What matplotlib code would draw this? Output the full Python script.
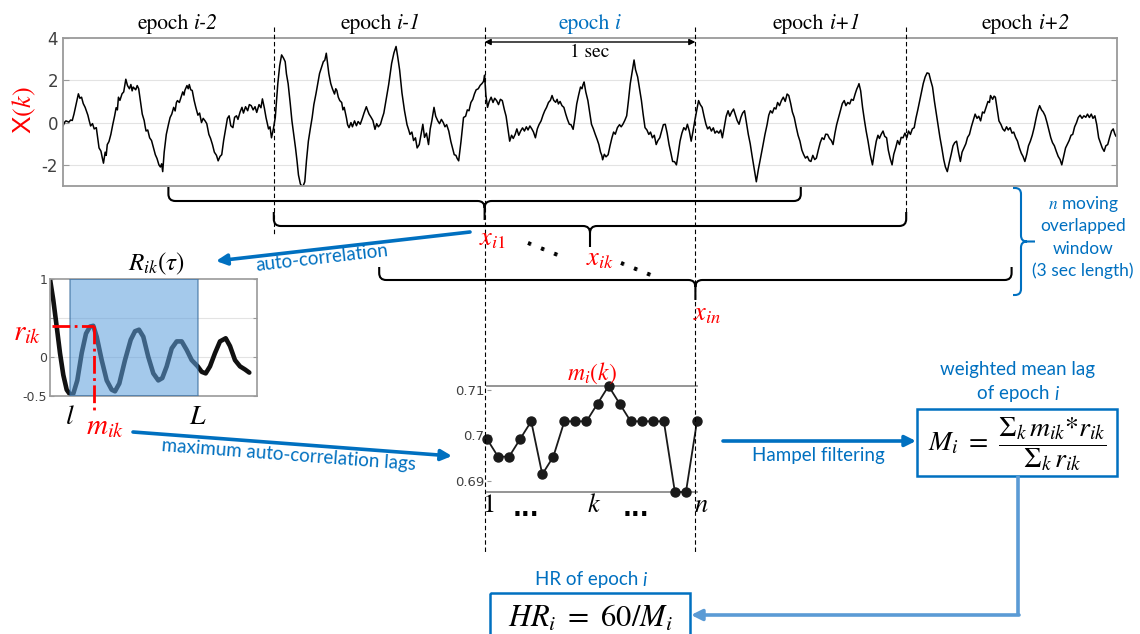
import matplotlib.pyplot as plt
from matplotlib.path import Path
from matplotlib.patches import PathPatch, FancyArrowPatch, Rectangle

plt.rcParams['mathtext.fontset'] = 'stix'
plt.rcParams['axes.unicode_minus'] = False

BLUE = '#0070C0'
LBLUE = '#5B9BD5'
SANS = 'Lato'
SERIF = 'STIXGeneral'
GRAY = '#404040'

# X(k) signal: (time in sec, amplitude)
sig = [(0.000, -0.16), (0.008, 0.02), (0.014, 0.08), (0.028, 0.02), (0.036, 0.12), (0.044, 0.10),
       (0.052, 0.40), (0.062, 0.85), (0.073, 1.36), (0.080, 1.15), (0.088, 1.20), (0.096, 0.90),
       (0.105, 0.72), (0.118, 0.35), (0.124, 0.10), (0.131, -0.16), (0.140, -0.05), (0.148, -0.30),
       (0.158, -0.24), (0.164, -0.70), (0.171, -1.20), (0.180, -1.35), (0.186, -1.65), (0.192, -1.92),
       (0.200, -1.40), (0.205, -1.55), (0.210, -1.04), (0.218, -0.90), (0.227, -0.56), (0.236, -0.10),
       (0.245, 0.32), (0.252, 0.70), (0.258, 0.60), (0.263, 1.20), (0.270, 1.05), (0.280, 1.36),
       (0.288, 1.45), (0.298, 2.05), (0.306, 1.75), (0.315, 1.60), (0.322, 1.80), (0.328, 1.50),
       (0.333, 1.68), (0.345, 1.55), (0.352, 1.75), (0.359, 1.60), (0.368, 0.95), (0.376, 0.40),
       (0.385, 0.10), (0.390, -0.20), (0.394, -0.40), (0.402, -0.35), (0.411, -0.72), (0.420, -0.85),
       (0.428, -1.15), (0.438, -1.52), (0.446, -1.70), (0.455, -2.00), (0.462, -2.10), (0.468, -1.95),
       (0.473, -2.32), (0.480, -1.40), (0.490, -0.56), (0.500, -0.10), (0.508, 0.24), (0.516, 0.40),
       (0.525, 0.72), (0.532, 0.55), (0.538, 0.95), (0.543, 1.04), (0.552, 0.95), (0.560, 1.20),
       (0.568, 1.45), (0.574, 1.30), (0.578, 1.52), (0.588, 1.75), (0.594, 1.60), (0.599, 1.80),
       (0.606, 1.55), (0.613, 1.52), (0.622, 1.05), (0.630, 0.72), (0.640, 0.35), (0.648, 0.45),
       (0.657, 0.00), (0.665, 0.20), (0.674, 0.08), (0.682, -0.05), (0.692, -0.56), (0.700, -0.75),
       (0.709, -1.04), (0.718, -1.40), (0.728, -1.55), (0.736, -1.81), (0.745, -1.60), (0.753, -1.52),
       (0.762, -0.85), (0.771, -0.32), (0.780, 0.20), (0.788, 0.32), (0.796, -0.15), (0.806, -0.24),
       (0.814, 0.25), (0.823, 0.32), (0.830, 0.15), (0.840, 0.50), (0.849, 0.72), (0.856, 0.45),
       (0.866, 0.75), (0.876, 0.56), (0.884, 0.85), (0.893, 0.80), (0.902, 0.60), (0.911, 0.75),
       (0.919, 0.48), (0.930, 0.85), (0.939, 0.70), (0.946, 1.12), (0.955, 0.70), (0.963, 0.24),
       (0.975, -0.30), (0.982, -0.20), (0.989, -0.72), (0.998, -0.30), (1.007, 0.24), (1.019, 1.84),
       (1.028, 2.70), (1.037, 3.20), (1.046, 3.05), (1.054, 2.88), (1.060, 2.30), (1.068, 1.84),
       (1.078, 0.90), (1.086, 0.08), (1.095, -0.60), (1.103, -1.20), (1.110, -1.80), (1.117, -2.48),
       (1.126, -2.90), (1.135, -3.04), (1.141, -2.95), (1.147, -2.80), (1.155, -1.80), (1.164, -0.88),
       (1.173, -0.30), (1.182, 0.24), (1.190, 0.85), (1.200, 1.36), (1.208, 1.80), (1.217, 2.32),
       (1.226, 2.60), (1.235, 2.88), (1.242, 2.95), (1.249, 3.28), (1.255, 2.80), (1.261, 2.32),
       (1.270, 1.85), (1.278, 1.60), (1.288, 1.35), (1.294, 1.60), (1.299, 1.52), (1.306, 1.20),
       (1.313, 1.04), (1.322, 0.95), (1.328, 0.60), (1.334, 0.72), (1.345, 0.20), (1.350, -0.10),
       (1.357, -0.24), (1.366, 0.00), (1.373, -0.20), (1.383, 0.08), (1.392, -0.15), (1.400, 0.05),
       (1.410, -0.08), (1.420, 0.20), (1.428, 0.45), (1.439, 0.75), (1.446, 0.55), (1.452, 0.40),
       (1.462, 0.24), (1.470, 0.10), (1.480, -0.32), (1.488, -0.05), (1.496, -0.20), (1.506, -0.08),
       (1.514, 0.20), (1.522, 0.45), (1.532, 1.04), (1.545, 1.80), (1.559, 2.80), (1.570, 3.30),
       (1.580, 3.60), (1.588, 3.10), (1.597, 2.48), (1.608, 1.40), (1.620, 0.56), (1.632, -0.10),
       (1.640, -0.35), (1.646, -0.56), (1.655, -0.45), (1.663, -0.85), (1.672, -0.72), (1.680, -1.20),
       (1.690, -1.04), (1.698, -0.60), (1.707, -0.08), (1.715, -0.70), (1.724, -0.50), (1.734, -1.04),
       (1.742, -0.30), (1.750, 0.10), (1.760, 0.72), (1.768, 0.30), (1.778, 0.08), (1.786, -0.05),
       (1.795, 0.15), (1.804, 0.00), (1.812, -0.20), (1.820, -0.10), (1.830, -0.40), (1.840, -0.90),
       (1.848, -1.20), (1.856, -1.52), (1.864, -1.55), (1.870, -1.70), (1.877, -1.81), (1.888, -0.90),
       (1.900, 0.24), (1.910, 0.30), (1.918, 0.60), (1.926, 0.56), (1.935, 0.95), (1.944, 1.10),
       (1.952, 1.36), (1.960, 1.55), (1.970, 1.60), (1.979, 1.76), (1.988, 1.85), (1.995, 1.95),
       (2.000, 2.24), (2.006, 1.30), (2.014, 0.72), (2.022, 1.00), (2.031, 1.20), (2.040, 0.95),
       (2.048, 1.15), (2.057, 1.04), (2.066, 0.85), (2.075, 1.10), (2.084, 1.04), (2.094, 0.60),
       (2.102, 0.30), (2.110, -0.24), (2.119, -0.88), (2.128, -0.60), (2.136, -0.75), (2.145, -0.56),
       (2.153, -0.30), (2.162, -0.60), (2.171, -0.40), (2.180, -0.25), (2.189, -0.40), (2.198, -0.20),
       (2.206, -0.35), (2.215, -0.16), (2.224, -0.30), (2.232, -0.45), (2.241, -0.72), (2.250, -0.30),
       (2.258, -0.10), (2.268, 0.08), (2.277, 0.35), (2.285, 0.55), (2.294, 0.72), (2.303, 0.95),
       (2.312, 1.05), (2.320, 1.28), (2.328, 1.05), (2.337, 0.96), (2.344, 1.10), (2.350, 0.88),
       (2.358, 1.00), (2.367, 0.80), (2.376, 0.72), (2.385, 0.40), (2.393, 0.15), (2.402, -0.08),
       (2.410, -0.10), (2.420, -0.32), (2.428, 0.20), (2.437, 0.88), (2.446, 1.30), (2.455, 1.68),
       (2.462, 1.60), (2.467, 1.80), (2.472, 1.92), (2.480, 1.45), (2.490, 1.04), (2.498, 0.50),
       (2.507, -0.08), (2.516, -0.30), (2.525, -0.56), (2.534, -0.80), (2.542, -1.04), (2.550, -1.40),
       (2.556, -1.55), (2.560, -1.76), (2.568, -1.50), (2.576, -1.62), (2.586, -1.52), (2.595, -1.10),
       (2.604, -0.72), (2.612, -0.45), (2.620, -0.55), (2.630, -0.24), (2.640, -0.10), (2.648, -0.20),
       (2.656, -0.08), (2.665, 0.10), (2.674, 0.32), (2.682, 1.00), (2.691, 1.84), (2.700, 2.40),
       (2.709, 2.96), (2.716, 2.50), (2.726, 2.16), (2.735, 1.60), (2.744, 1.04), (2.752, 0.40),
       (2.761, -0.24), (2.770, -0.35), (2.779, -0.56), (2.787, -0.45), (2.796, -0.72), (2.805, -0.60),
       (2.814, -1.04), (2.822, -0.85), (2.831, -0.72), (2.840, -0.40), (2.848, -0.10), (2.857, -0.08),
       (2.866, -0.50), (2.875, -1.04), (2.884, -1.45), (2.892, -1.84), (2.901, -1.85), (2.910, -2.00),
       (2.918, -1.50), (2.927, -0.88), (2.936, -0.50), (2.945, -0.24), (2.954, -0.35), (2.962, -0.08),
       (2.971, -0.40), (2.980, -0.88), (2.988, -0.45), (2.997, 0.08), (3.006, 0.55), (3.015, 1.04),
       (3.023, 0.85), (3.032, 0.72), (3.041, 0.30), (3.050, -0.08), (3.058, -0.30), (3.067, -0.20),
       (3.076, -0.40), (3.085, -0.25), (3.093, -0.50), (3.102, -0.40), (3.111, -0.50), (3.120, -0.35),
       (3.128, -0.72), (3.137, -0.20), (3.146, 0.30), (3.155, 0.56), (3.163, 0.30), (3.172, 0.50),
       (3.181, 0.64), (3.190, 0.35), (3.198, 0.10), (3.207, -0.08), (3.216, 0.25), (3.224, 0.45),
       (3.233, 0.56), (3.242, 0.00), (3.251, -0.56), (3.260, -1.00), (3.268, -1.52), (3.279, -2.20),
       (3.289, -2.80), (3.299, -2.20), (3.309, -1.68), (3.320, -1.10), (3.330, -0.56), (3.340, -0.10),
       (3.348, 0.35), (3.356, 0.56), (3.365, 0.45), (3.374, 0.70), (3.382, 0.64), (3.390, 0.95),
       (3.399, 0.80), (3.408, 1.04), (3.417, 1.20), (3.426, 1.00), (3.435, 1.35), (3.443, 1.28),
       (3.452, 0.90), (3.460, 0.50), (3.469, 0.24), (3.478, -0.20), (3.487, -0.60), (3.496, -0.88),
       (3.505, -1.30), (3.513, -1.50), (3.522, -1.68), (3.531, -1.60), (3.540, -1.80), (3.548, -1.84),
       (3.557, -1.55), (3.566, -1.75), (3.574, -1.68), (3.583, -1.30), (3.592, -0.95), (3.601, -0.72),
       (3.610, -0.80), (3.618, -0.55), (3.627, -0.56), (3.636, -0.75), (3.645, -0.85), (3.653, -1.04),
       (3.662, -0.50), (3.670, -0.10), (3.679, 0.24), (3.688, 0.60), (3.697, 0.90), (3.706, 1.04),
       (3.714, 0.80), (3.723, 0.95), (3.732, 0.88), (3.740, 1.10), (3.749, 1.05), (3.758, 1.36),
       (3.766, 1.60), (3.771, 1.70), (3.776, 1.84), (3.784, 1.50), (3.793, 0.72), (3.802, 0.10),
       (3.810, -0.40), (3.819, -0.88), (3.829, -1.50), (3.840, -2.00), (3.849, -1.40), (3.858, -0.88),
       (3.866, -0.60), (3.873, -0.75), (3.881, -0.56), (3.890, -0.40), (3.898, -0.65), (3.907, -0.72),
       (3.915, -1.30), (3.924, -1.70), (3.933, -2.00), (3.941, -1.50), (3.950, -1.20), (3.959, -0.85),
       (3.968, -1.04), (3.976, -0.70), (3.985, -0.72), (3.994, -0.50), (4.003, -0.72), (4.011, -0.40),
       (4.020, -0.56), (4.029, -0.30), (4.038, -0.24), (4.046, 0.20), (4.055, 0.60), (4.064, 1.04),
       (4.073, 1.50), (4.081, 1.85), (4.090, 2.16), (4.099, 2.35), (4.108, 2.32), (4.116, 2.00),
       (4.125, 1.68), (4.134, 1.00), (4.143, 0.40), (4.152, -0.20), (4.160, -0.70), (4.169, -1.20),
       (4.178, -1.75), (4.186, -2.10), (4.195, -2.32), (4.204, -1.90), (4.213, -1.52), (4.222, -1.10),
       (4.230, -0.95), (4.239, -0.88), (4.248, -1.40), (4.257, -1.84), (4.265, -1.40), (4.274, -1.20),
       (4.283, -1.00), (4.291, -0.70), (4.300, -0.56), (4.309, -0.20), (4.318, 0.10), (4.327, 0.40),
       (4.336, 0.20), (4.344, 0.30), (4.353, 0.08), (4.362, 0.50), (4.370, 0.45), (4.379, 0.72),
       (4.388, 1.00), (4.395, 0.95), (4.400, 1.28), (4.410, 1.10), (4.417, 1.25), (4.423, 1.20),
       (4.432, 0.60), (4.440, 0.08), (4.450, -0.10), (4.458, -0.30), (4.467, -0.40), (4.476, -0.20),
       (4.484, -0.35), (4.493, -0.24), (4.502, -0.50), (4.510, -0.45), (4.519, -0.70), (4.528, -0.88),
       (4.537, -1.20), (4.546, -1.45), (4.554, -1.60), (4.563, -1.84), (4.572, -1.50), (4.580, -1.10),
       (4.589, -0.88), (4.598, -0.60), (4.607, -0.24), (4.616, 0.20), (4.624, 0.55), (4.633, 0.80),
       (4.642, 0.60), (4.650, 0.50), (4.659, 0.32), (4.668, 0.00), (4.677, -0.35), (4.686, -0.72),
       (4.694, -0.95), (4.703, -1.10), (4.712, -1.36), (4.721, -1.60), (4.730, -1.75), (4.738, -2.00),
       (4.747, -1.60), (4.756, -1.20), (4.764, -1.04), (4.773, -0.85), (4.782, -0.60), (4.790, -0.56),
       (4.799, -0.20), (4.808, 0.00), (4.816, 0.24), (4.825, 0.35), (4.834, 0.20), (4.843, 0.32),
       (4.852, 0.25), (4.860, 0.40), (4.869, 0.24), (4.878, 0.40), (4.886, 0.20), (4.895, 0.32),
       (4.904, -0.10), (4.913, -0.72), (4.921, -0.95), (4.930, -1.20), (4.939, -1.36), (4.947, -1.10),
       (4.956, -1.04), (4.965, -0.70), (4.974, -0.40), (4.982, -0.30), (4.990, -0.55), (4.995, -0.64)]
sig_t = [p[0] for p in sig]
sig_x = [p[1] for p in sig]

epoch_names = ['i-2', 'i-1', 'i', 'i+1', 'i+2']
win_start = [0.5, 1.0, 1.5]        # 3 sec moving windows
win_names = [r'$x_{i1}$', r'$x_{ik}$', r'$x_{in}$']

# auto-correlation R_ik(tau) of one window
tau = [0, 3.3, 6.7, 10, 13.3, 16.7, 20, 23.3, 27.3, 31.7, 36, 40, 43.3, 46.7,
       51.7, 56.7, 61.7, 65, 69.3, 75, 80.7, 85, 89, 93.3, 98.3, 103.3, 108.3,
       112.3, 116.7, 121.7, 126.7, 131.7, 136.7, 141.7, 147.7, 151.7, 155.7,
       160, 165, 170, 175.7, 180, 185, 190, 195, 199.3]
R = [1.0, 0.73, 0.39, 0.05, -0.23, -0.42, -0.48, -0.47, -0.30, 0.05, 0.30,
     0.39, 0.40, 0.26, -0.04, -0.30, -0.42, -0.44, -0.34, -0.04, 0.22, 0.33,
     0.35, 0.26, 0.00, -0.21, -0.30, -0.27, -0.12, 0.11, 0.20, 0.20, 0.09,
     -0.04, -0.12, -0.19, -0.21, -0.12, 0.05, 0.20, 0.24, 0.14, -0.04, -0.12,
     -0.16, -0.20]
lag_l, lag_L = 20, 148
m_peak, r_peak = 44, 0.40

# maximum auto-correlation lag of each window
k_idx = list(range(1, 21))
m_k = [0.6992, 0.6953, 0.6953, 0.6992, 0.7031, 0.6914, 0.6953, 0.7031, 0.7031, 0.7031,
       0.7070, 0.7109, 0.7070, 0.7031, 0.7031, 0.7031, 0.7031, 0.6875, 0.6875, 0.7031]

W, H = 1140, 634
fig = plt.figure(figsize=(W / 100, H / 100), dpi=100)


def pax(x0, y0, x1, y1, **kw):
    return fig.add_axes([x0 / W, 1 - y1 / H, (x1 - x0) / W, (y1 - y0) / H], **kw)


# ---- top signal
ax = pax(63, 38, 1117, 186)
ax.plot(sig_t, sig_x, color='k', lw=1.1)
ax.set_xlim(0, 5)
ax.set_ylim(-3, 4)
ax.set_xticks([])
ax.set_yticks([-2, 0, 2, 4])
for y in (-2, 0, 2):
    ax.axhline(y, color='#E3E3E3', lw=0.8, zorder=0)
for s in ax.spines.values():
    s.set_color('#9A9A9A')
    s.set_linewidth(1.3)
ax.tick_params(axis='y', direction='in', length=4, right=True, labelsize=12,
               labelcolor=GRAY, color='#9A9A9A')

# ---- auto-correlation
axr = pax(50, 279, 257, 396)
axr.plot(tau, R, color='#111111', lw=3.3, solid_capstyle='round', zorder=2)
axr.axvspan(lag_l, lag_L, facecolor='#5FA0DC', edgecolor='#2F6496', alpha=0.57, lw=1.2, zorder=3)
axr.set_xlim(0, 207)
axr.set_ylim(-0.5, 1)
axr.set_xticks([])
axr.set_yticks([-0.5, 0, 0.5, 1])
axr.set_yticklabels(['-0.5', '0', '', '1'])
for y in (0, 0.5):
    axr.axhline(y, color='#E3E3E3', lw=0.8, zorder=0)
for s in axr.spines.values():
    s.set_color('#9A9A9A')
    s.set_linewidth(1.2)
axr.tick_params(axis='y', direction='in', length=3, right=True, labelsize=9,
                labelcolor=GRAY, color='#9A9A9A', pad=2)
axr.plot([2, m_peak], [r_peak, r_peak], color='red', ls='-.', lw=2, zorder=4)
axr.plot([m_peak, m_peak], [r_peak, -0.72], color='red', ls='-.', lw=2, zorder=4, clip_on=False)
axr.text(lag_l, -0.58, r'$l$', fontsize=20, ha='center', va='top')
axr.text(lag_L, -0.58, r'$L$', fontsize=20, ha='center', va='top')
axr.text(m_peak + 11, -0.88, r'$m_{ik}$', fontsize=21, color='red', ha='center', va='center')
axr.text(-9, r_peak - 0.08, r'$r_{ik}$', fontsize=21, color='red', ha='right', va='center')
axr.text(107, 1.02, r'$R_{ik}(\tau)$', fontsize=18, ha='center', va='bottom')

# ---- m_i(k)
axm = pax(487, 386, 697, 492)
axm.plot(k_idx, m_k, 'o-', color='#1A1A1A', ms=6.5, lw=1.3, clip_on=False, zorder=3)
axm.set_xlim(1, 20)
axm.set_ylim(0.6875, 0.7109)
axm.set_xticks([])
axm.set_yticks([0.69, 0.70, 0.71])
axm.set_yticklabels(['0.69', '0.7', '0.71'])
axm.spines['left'].set_visible(False)
axm.spines['right'].set_visible(False)
for s in ('top', 'bottom'):
    axm.spines[s].set_color('#8C8C8C')
    axm.spines[s].set_linewidth(1.3)
axm.tick_params(axis='y', direction='in', length=3, labelsize=9.5, labelcolor=GRAY,
                color='#9A9A9A', pad=2)
axm.set_title(r'$m_i(k)$', color='red', fontsize=17, pad=2)
for kx, st in [(1.1, r'$\mathrm{1}$'), (10.7, r'$k$'), (20.4, r'$n$')]:
    axm.text(kx, 0.6846, st, fontsize=19, ha='center', va='center')
for kx in (4.5, 14.5):
    axm.text(kx, 0.6822, '...', fontsize=17, fontweight='bold', ha='center', va='baseline',
             family='DejaVu Sans')

# ---- overlay in pixel coordinates
ov = fig.add_axes([0, 0, 1, 1], zorder=10)
ov.set_xlim(0, W)
ov.set_ylim(H, 0)
ov.axis('off')
rend = fig.canvas.get_renderer()


def tx(t):
    return 63 + t * 1054 / 5


def two_part(x, y, a, b, color, size, fam):
    t1 = ov.text(0, y, a, color=color, fontsize=size, family=fam, ha='left', va='center')
    t2 = ov.text(0, y, b, color=color, fontsize=size, family=fam, style='italic',
                 ha='left', va='center')
    w1 = t1.get_window_extent(rend).width
    w2 = t2.get_window_extent(rend).width
    gap = 0.25 * size * 100 / 72
    left = x - (w1 + gap + w2) / 2
    t1.set_x(left)
    t2.set_x(left + w1 + gap)


def brace(p1, p2, out, bar, tip, r=7, vertical=False, color='k', lw=1.5):
    pm = (p1 + p2) / 2
    pts = [(p1, out), (p1, bar - r), (p1, bar), (p1 + r, bar), (pm - r, bar), (pm, bar),
           (pm, bar + r), (pm, tip), (pm, bar + r), (pm, bar), (pm + r, bar), (p2 - r, bar),
           (p2, bar), (p2, bar - r), (p2, out)]
    M, L_, C = Path.MOVETO, Path.LINETO, Path.CURVE3
    codes = [M, L_, C, C, L_, C, C, L_, M, C, C, L_, C, C, L_]
    if vertical:
        pts = [(b, a) for a, b in pts]
    ov.add_patch(PathPatch(Path(pts, codes), fill=False, ec=color, lw=lw))


# epoch labels
label_x = [178, 381, 590, 817, 1026]
for lx, nm in zip(label_x, epoch_names):
    two_part(lx, 24, 'epoch', nm, BLUE if nm == 'i' else 'k', 15.5, SERIF)

# dashed epoch boundaries
bottoms = [235, 553, 553, 213]
for t, yb in zip([1, 2, 3, 4], bottoms):
    ov.plot([tx(t), tx(t)], [27, yb], color='k', lw=0.8, ls=(0, (4, 2.5)))

ov.add_patch(FancyArrowPatch((tx(2), 42), (tx(3), 42), arrowstyle='<|-|>',
                             mutation_scale=9, lw=1, color='k', shrinkA=0, shrinkB=0))
ov.text(590, 52, '1 sec', fontsize=14, family=SERIF, ha='center', va='center')
ov.text(24, 110, r'X$(k)$', fontsize=19, color='red', rotation=90, ha='center', va='center',
        family='Liberation Sans')

# window braces
levels = [(187, 201, 220), (212, 226, 247), (267, 280, 300)]
lab_pos = [(8, 238), (10, 258), (12, 313)]
for st, (o, b, tp), nm, (dx, ly) in zip(win_start, levels, win_names, lab_pos):
    brace(tx(st), tx(st + 3), o, b, tp)
    ov.text(tx(st + 1.5) + dx, ly, nm, color='red', fontsize=19, ha='center', va='center')
for dx, dy in [(544, 246), (637, 266)]:
    ov.text(dx, dy, '. . .', fontsize=14, fontweight='bold', rotation=-22, ha='center',
            va='center', family='DejaVu Sans')

brace(188, 295, 1013, 1021, 1035, r=6, vertical=True, color=BLUE, lw=1.5)
for y, s in zip([204, 226, 249, 271], [r'$n$ moving', 'overlapped', 'window', '(3 sec length)']):
    ov.text(1083, y, s, color=BLUE, fontsize=12.5, family=SANS, ha='center', va='center')

# arrows and labels
ov.add_patch(FancyArrowPatch((470, 232), (216, 261), arrowstyle='-|>', mutation_scale=16,
                             lw=2.6, color=BLUE, shrinkA=0, shrinkB=0))
ov.text(322, 258, 'auto-correlation', color=BLUE, fontsize=13.5, family=SANS,
        rotation=6.5, ha='center', va='center')
ov.add_patch(FancyArrowPatch((133, 432), (452, 456), arrowstyle='-|>', mutation_scale=16,
                             lw=2.6, color=BLUE, shrinkA=0, shrinkB=0))
ov.text(289, 455, 'maximum auto-correlation lags', color=BLUE, fontsize=13.5, family=SANS,
        rotation=-4.3, ha='center', va='center')
ov.add_patch(FancyArrowPatch((723, 441), (916, 441), arrowstyle='-|>', mutation_scale=16,
                             lw=2.6, color=BLUE, shrinkA=0, shrinkB=0))
ov.text(818, 455, 'Hampel filtering', color=BLUE, fontsize=13.5, family=SANS,
        ha='center', va='center')

# weighted mean lag box
ov.add_patch(Rectangle((917, 409), 200, 67, fill=False, ec=BLUE, lw=1.8))
ov.text(1018, 370, 'weighted mean lag', color=BLUE, fontsize=13.5, family=SANS,
        ha='center', va='center')
two_part(1018, 394, 'of epoch', 'i', BLUE, 13.5, SANS)
ov.text(1017, 444, r'$M_i\ =\ \dfrac{\Sigma_k\, m_{ik}{*}r_{ik}}{\Sigma_k\, r_{ik}}$', fontsize=20,
        ha='center', va='center')

# HR box
ov.plot([1018, 1018], [476, 615], color=LBLUE, lw=2.6, solid_capstyle='butt')
ov.add_patch(FancyArrowPatch((1019, 615), (691, 615), arrowstyle='-|>', mutation_scale=16,
                             lw=2.6, color=LBLUE, shrinkA=0, shrinkB=0))
ov.add_patch(Rectangle((490, 593), 200, 60, fill=False, ec=BLUE, lw=1.8))
two_part(591, 580, 'HR of epoch', 'i', BLUE, 13.5, SANS)
ov.text(590, 618, r'$HR_i\ =\ 60/M_i$', fontsize=22, ha='center', va='center')

fig.savefig('out.png', dpi=100)
